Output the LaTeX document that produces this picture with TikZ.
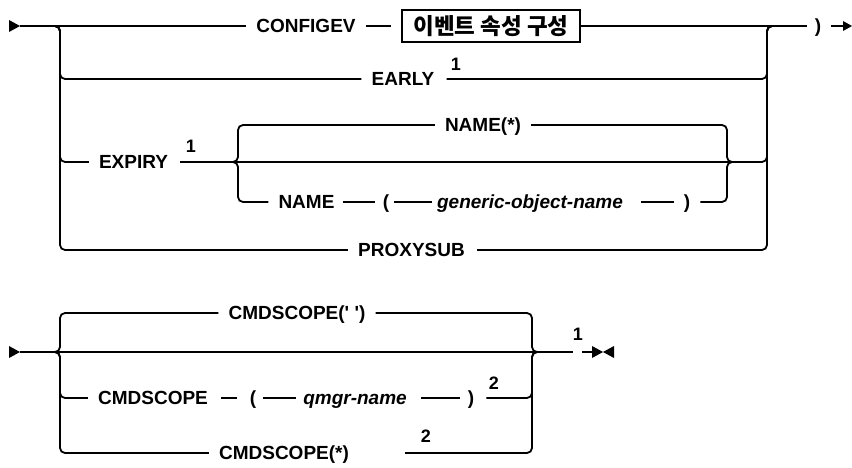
\documentclass[tikz,border=0pt]{standalone}
\usepackage{fontspec}
\setmainfont{Liberation Sans}[Ligatures=TeXOff]
\newfontfamily\krfont{Noto Sans CJK KR}
\begin{document}
\begin{tikzpicture}[x=1pt,y=-1pt,
  kw/.style={font=\fontsize{19}{19}\selectfont\bfseries, inner sep=0pt, text height=13.6pt, text depth=0pt},
  var/.style={kw, font=\fontsize{19}{19}\selectfont\bfseries\itshape},
  supn/.style={font=\fontsize{18}{18}\selectfont\bfseries, inner sep=0pt},
  rail/.style={line width=1.8pt, rounded corners=5pt},
  gp/.style={shorten <=#1, shorten >=#1},
  gl/.style={shorten <=#1},
  gr/.style={shorten >=#1},
  tip/.style={fill=black}]
\useasboundingbox (0,0) rectangle (852,468);

% ---------- top diagram ----------
\coordinate (s1) at (20,26);
\fill[tip] (9,20) -- (20,26) -- (9,32) -- cycle;
\node[kw] (cfg) at (306,26) {CONFIGEV};
\node[draw, line width=1.5pt, minimum width=178pt, minimum height=32pt, inner sep=0pt,
      font=\krfont\bfseries\fontsize{22.5}{22.5}\selectfont] (box) at (491,26) {이벤트 속성 구성};
\node[kw] (rp1) at (818,26) {)};
\coordinate (e1) at (844,26);
\fill[tip] (843,21) -- (852,26) -- (843,31) -- cycle;

\node[kw] (early) at (403,79) {EARLY};
\node[supn] at (456,64) {1};
\node[kw] (expiry) at (133.5,162) {EXPIRY};
\node[supn] at (191,146) {1};
\node[kw] (namestar) at (483,125) {NAME(*)};
\node[kw] (name) at (306.5,202) {NAME};
\node[kw] (lp2) at (386,202) {(};
\node[var] (gon) at (530,202) {generic-object-name};
\node[kw] (rp2) at (687,202) {)};
\node[kw] (proxy) at (411.5,250) {PROXYSUB};

\coordinate (fa) at (50,26);
\coordinate (ja) at (777,26);

\draw[rail, gr=10] (s1) -- (cfg);
\draw[rail, gp=10] (cfg) -- (box);
\draw[rail, gr=8] (box) -- (rp1);
\draw[rail, gl=10] (rp1) -- (e1);

\draw[rail, gr=10] (fa) -- (60,26) |- (early);
\draw[rail, gl=12] (early) -| (767,26) -- (ja);

\draw[rail, gr=10] (fa) -- (60,26) |- (expiry);
\draw[rail, gl=12] (expiry) -| (767,26) -- (ja);
\draw[rail, gr=10] (228,162) -- (238,162) |- (namestar);
\draw[rail, gl=10] (namestar) -| (727,162) -- (737,162);
\draw[rail, gr=10] (228,162) -- (238,162) |- (name);
\draw[rail, gp=8] (name) -- (lp2);
\draw[rail, gp=5] (lp2) -- (gon);
\draw[rail, gl=18, gr=10] (gon) -- (rp2);
\draw[rail, gl=10] (rp2) -| (727,162) -- (737,162);

\draw[rail, gr=10] (fa) -- (60,26) |- (proxy);
\draw[rail, gl=12] (proxy) -| (767,26) -- (ja);

% ---------- bottom diagram ----------
\coordinate (s2) at (20,352);
\fill[tip] (9,346) -- (20,352) -- (9,358) -- cycle;
\coordinate (m2) at (573,352);
\coordinate (e2a) at (582,352);
\coordinate (e2) at (592,352);
\fill[tip] (592,346) -- (603,352) -- (592,358) -- cycle;
\fill[tip] (614,346) -- (603,352) -- (614,358) -- cycle;
\node[supn] at (578,334) {1};

\node[kw] (cs1) at (297,313) {CMDSCOPE(' ')};
\node[kw] (cs2) at (153,398) {CMDSCOPE};
\node[kw] (lp3) at (253,398) {(};
\node[var] (qm) at (355,398) {qmgr-name};
\node[kw] (rp3) at (471,398) {)};
\node[supn] at (494,383) {2};
\node[kw] (cs3) at (284,453) {CMDSCOPE(*)};
\node[supn] at (426,436) {2};

\coordinate (fb) at (50,352);
\coordinate (jb) at (542,352);

\draw[rail] (s2) -- (m2);
\draw[rail] (e2a) -- (e2);

\draw[rail, gr=10] (fb) -- (60,352) |- (cs1);
\draw[rail, gl=10] (cs1) -| (532,352) -- (jb);

\draw[rail, gr=10] (fb) -- (60,352) |- (cs2);
\draw[rail, gp=13] (cs2) -- (lp3);
\draw[rail, gp=7] (lp3) -- (qm);
\draw[rail, gl=14, gr=8] (qm) -- (rp3);
\draw[rail, gl=12] (rp3) -| (532,352) -- (jb);

\draw[rail, gr=10] (fb) -- (60,352) |- (cs3);
\draw[rail, gl=56] (cs3) -| (532,352) -- (jb);
\end{tikzpicture}
\end{document}
